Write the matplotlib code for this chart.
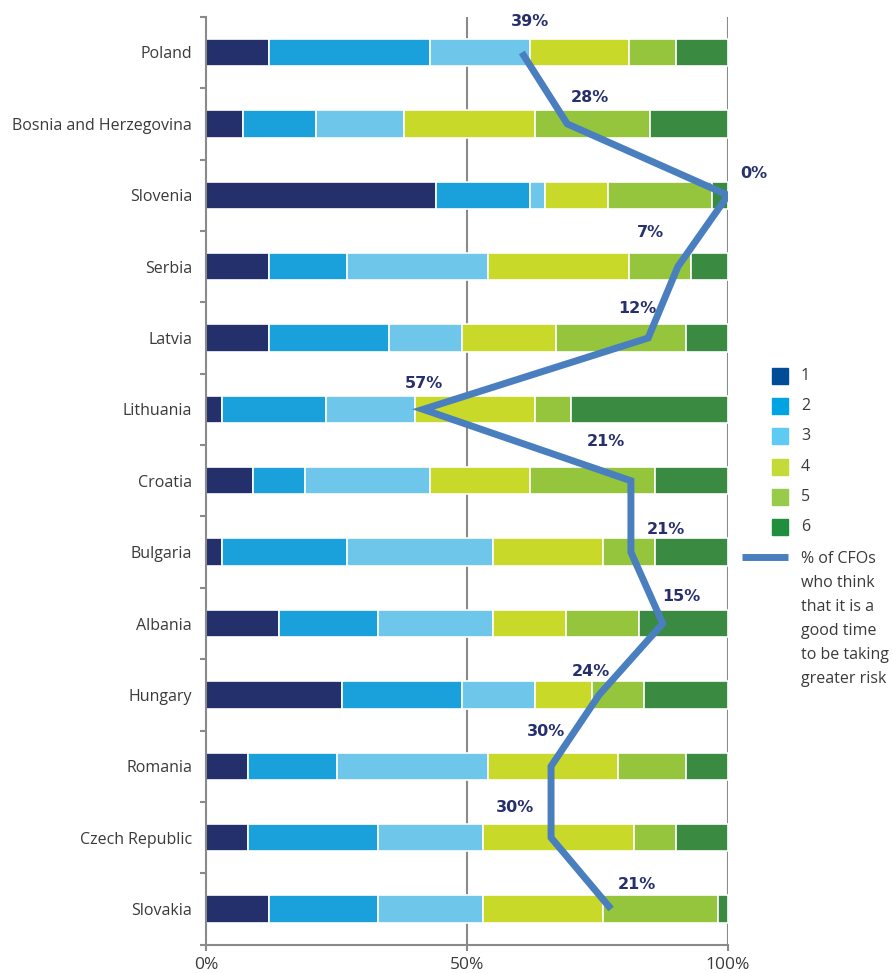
import numpy as np
import matplotlib
matplotlib.use("Agg")
import matplotlib.pyplot as plt
from matplotlib.patches import Rectangle
from matplotlib.lines import Line2D

# Countries, top to bottom
COUNTRIES = [
    "Poland",
    "Bosnia and Herzegovina",
    "Slovenia",
    "Serbia",
    "Latvia",
    "Lithuania",
    "Croatia",
    "Bulgaria",
    "Albania",
    "Hungary",
    "Romania",
    "Czech Republic",
    "Slovakia",
]

# Share of answers per score (%), one list per score 1..6
SCORE_1 = [12, 7, 44, 12, 12, 3, 9, 3, 14, 26, 8, 8, 12]
SCORE_2 = [31, 14, 18, 15, 23, 20, 10, 24, 19, 23, 17, 25, 21]
SCORE_3 = [19, 17, 3, 27, 14, 17, 24, 28, 22, 14, 29, 20, 20]
SCORE_4 = [19, 25, 12, 27, 18, 23, 19, 21, 14, 11, 25, 29, 23]
SCORE_5 = [9, 22, 20, 12, 25, 7, 24, 10, 14, 10, 13, 8, 22]
SCORE_6 = [10, 15, 3, 7, 8, 30, 14, 14, 17, 16, 8, 10, 2]
SCORE_NAMES = ["1", "2", "3", "4", "5", "6"]

# % of CFOs who think it is a good time to take greater risk
RISK_LABELS = [39, 28, 0, 7, 12, 57, 21, 21, 15, 24, 30, 30, 21]
# where the line is actually drawn (reversed scale)
RISK_LINE = [39.5, 30.8, 0, 9.6, 15.3, 58.4, 18.6, 18.6, 12.5, 24.7, 33.9, 33.9, 22.4]

X_TICKS = [0, 50, 100]
X_TICK_LABELS = ["0%", "50%", "100%"]

# Styles
BAR_COLORS = ["#24306b", "#1aa0da", "#6ec6ea", "#c9d92a", "#95c43d", "#3a8a42"]
LEGEND_COLORS = ["#014b97", "#00a4e2", "#5fcbf3", "#c4db37", "#98ca4b", "#1f8e3d"]
LINE_COLOR = "#4a7fbf"
LABEL_COLOR = "#27306c"
AXIS_COLOR = "#8a8a8a"
TEXT_COLOR = "#3a3a3a"
FONT = "Open Sans"
# label offsets from the line point, in pixels (dx right, dy down)
LABEL_OFFSETS = [
    (8, -30.5), (23, -26), (26, -22), (-27, -34), (-11, -29), (1, -25.5),
    (-25.5, -39), (35, -23), (19, -27), (-8, -23), (-5.5, -34.5), (-36, -30),
    (25.5, -25),
]

W, H = 893, 973


def fig_xy(px, py):
    return px / W, 1 - py / H


def main() -> None:
    fig = plt.figure(figsize=(W / 100, H / 100), dpi=100)
    ax = fig.add_axes([206 / W, 1 - 944.7 / H, 522 / W, (944.7 - 16.8) / H])

    y_pos = np.arange(len(COUNTRIES))
    scores = [SCORE_1, SCORE_2, SCORE_3, SCORE_4, SCORE_5, SCORE_6]

    # Stacked bars
    left = np.zeros(len(COUNTRIES))
    for vals, color in zip(scores, BAR_COLORS):
        ax.barh(y_pos, vals, left=left, height=0.385, color=color,
                edgecolor="white", linewidth=1.2, zorder=2)
        left += np.array(vals)

    # Gridlines at 50% and 100%
    for x in X_TICKS[1:]:
        ax.axvline(x, color=AXIS_COLOR, linewidth=1.5, zorder=1)

    ax.set_xlim(0, 100)
    ax.set_ylim(len(COUNTRIES) - 0.5, -0.5)

    for side in ["top", "right"]:
        ax.spines[side].set_visible(False)
    for side in ["left", "bottom"]:
        ax.spines[side].set_color(AXIS_COLOR)
        ax.spines[side].set_linewidth(1.5)

    ax.set_xticks(X_TICKS)
    ax.set_xticklabels(X_TICK_LABELS, fontfamily=FONT, fontsize=12.5, color=TEXT_COLOR)
    ax.tick_params(axis="x", length=4.5, width=1.5, color=AXIS_COLOR, pad=4)

    ax.set_yticks(y_pos)
    ax.set_yticklabels(COUNTRIES, fontfamily=FONT, fontsize=11.5, color=TEXT_COLOR)
    ax.tick_params(axis="y", which="major", length=0, pad=10)
    ax.set_yticks(np.arange(-0.5, len(COUNTRIES), 1), minor=True)
    ax.tick_params(axis="y", which="minor", length=4, width=1.5, color=AXIS_COLOR)

    # Risk line on a reversed twin axis
    ax2 = ax.twiny()
    ax2.set_xlim(100, 0)
    ax2.axis("off")
    ax2.plot(RISK_LINE, y_pos, color=LINE_COLOR, linewidth=5,
             solid_capstyle="butt", solid_joinstyle="miter", zorder=3)

    for v, lab, y, (dx, dy) in zip(RISK_LINE, RISK_LABELS, y_pos, LABEL_OFFSETS):
        ax2.annotate(
            f"{lab}%",
            xy=(v, y),
            xytext=(dx * 0.72, -dy * 0.72),
            textcoords="offset points",
            ha="center",
            va="center",
            fontsize=11.5,
            fontweight="bold",
            family="DejaVu Sans",
            color=LABEL_COLOR,
            annotation_clip=False,
        )

    # Legend, drawn by hand
    for i, (name, color) in enumerate(zip(SCORE_NAMES, LEGEND_COLORS)):
        cy = 376 + 30.2 * i
        x0, y0 = fig_xy(772, cy + 8)
        fig.add_artist(Rectangle((x0, y0), 16 / W, 16 / H, transform=fig.transFigure,
                                 color=color))
        tx, ty = fig_xy(801, cy)
        fig.text(tx, ty, name, ha="left", va="center", fontfamily=FONT,
                 fontsize=11.5, color=TEXT_COLOR)

    lx0, ly = fig_xy(742, 557)
    lx1, _ = fig_xy(788, 557)
    fig.add_artist(Line2D([lx0, lx1], [ly, ly], transform=fig.transFigure,
                          color=LINE_COLOR, linewidth=5, solid_capstyle="butt"))
    tx, ty = fig_xy(801, 551)
    fig.text(tx, ty,
             "% of CFOs\nwho think\nthat it is a\ngood time\nto be taking\ngreater risk",
             ha="left", va="top", fontfamily=FONT, fontsize=11.5, color=TEXT_COLOR,
             linespacing=1.67)

    fig.savefig("out.png", dpi=100)


if __name__ == "__main__":
    main()
